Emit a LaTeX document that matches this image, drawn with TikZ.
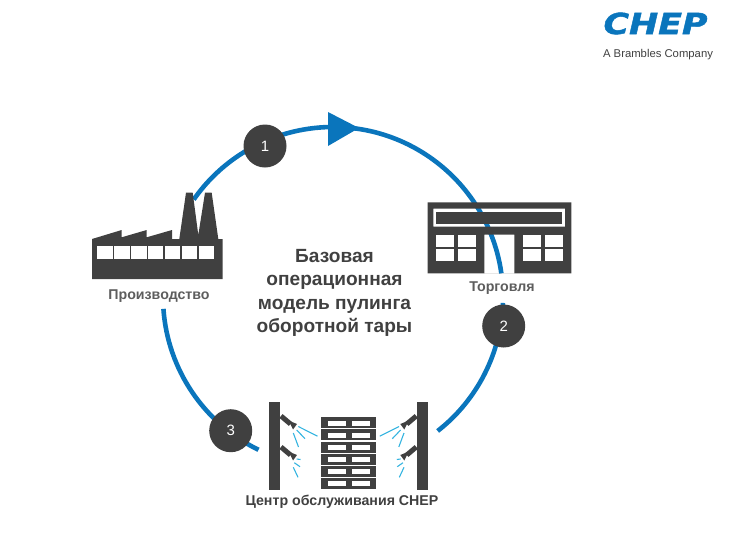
\documentclass[tikz,border=0pt]{standalone}
\usepackage{fontspec}
\setmainfont{Liberation Sans}
\newfontfamily\logofont[BoldItalicFeatures={FakeBold=1.5}]{DejaVu Sans}
\usetikzlibrary{positioning,calc}
\definecolor{chepblue}{HTML}{0A75BC}
\definecolor{iconDark}{HTML}{404040}
\definecolor{sprayBlue}{HTML}{35B4E0}

\begin{document}
\begin{tikzpicture}[
  x=1pt, y=-1pt,
  flow/.style={draw=chepblue, line width=4.6pt},
  badge/.style={circle, fill=iconDark, text=white, minimum size=43pt, inner sep=0pt, font=\fontsize{15}{17}\selectfont},
  caption/.style={font=\fontsize{14.2}{16}\bfseries\selectfont, text=iconDark!85!white, inner sep=0pt},
  icon/.style={fill=iconDark},
  hole/.style={fill=white},
  spray/.style={draw=sprayBlue, line width=1.1pt},
  node distance=7mm and 10mm
]
  \useasboundingbox (0,0) rectangle (736,541);
  \coordinate (hub) at (333,297);

  % ring, behind the icons
  \coordinate (prodEnd) at ($(hub)+(145:170 and -170)$);
  \coordinate (tradeOut) at ($(hub)+(-2:170 and -170)$);
  \coordinate (serviceOut) at ($(hub)+(-116:170 and -170)$);
  \draw[flow] (prodEnd) arc[start angle=-145, end angle=-8, radius=170];
  \draw[flow] (tradeOut) arc[start angle=2, end angle=52, radius=170];
  \draw[flow] (serviceOut) arc[start angle=116, end angle=176, radius=170];
  \fill[chepblue] (328,112) -- (359,128) -- (328,146) -- cycle;

  % factory
  \fill[icon] (92,239) -- (121.7,230) -- (121.7,237.3) -- (146.7,230) -- (146.7,237.3) -- (172,230)
    -- (172,239) -- (179.3,239) -- (186,192.7) -- (192.7,192.7) -- (198.3,235) -- (205,192.7)
    -- (211.7,192.7) -- (218.3,239) -- (222.7,239) -- (222.7,279) -- (92,279) -- cycle;
  \foreach \i in {0,...,6}
    \fill[hole] (97.3+16.9*\i,246) rectangle ++(15.4,12.7);

  % store
  \fill[icon, even odd rule] (427.7,202.3) rectangle (571.3,273.3)
    (433.3,208.7) rectangle (565,226.7)
    (484.3,234.7) rectangle (514.3,273.3);
  \fill[icon] (436,212) rectangle (561.7,224);
  \foreach \x in {435.7,457.7,523.3,545.3}
    \foreach \y in {235,249.3}
      \fill[hole] (\x,\y) rectangle ++(17.8,11.8);

  % service centre
  \fill[icon] (269,402) rectangle (280.3,490);
  \fill[icon] (417,402) rectangle (428.3,490);
  \foreach \i in {0,...,5} {
    \fill[icon] (321.3,417.3+12.1*\i) rectangle ++(54.7,11);
    \fill[hole] (328,420.6+12.1*\i) rectangle ++(18,5.3);
    \fill[hole] (352,420.6+12.1*\i) rectangle ++(18,5.3);
  }
  \foreach \s/\o in {1/0,-1/697.3} {
    \begin{scope}[xshift=\o pt, xscale=\s]
      \foreach \d in {0,31} {
        \draw[iconDark, line width=5pt] (281,416+\d) -- (290.5,424+\d);
        \fill[icon] (288.5,420.5+\d) -- (297,424+\d) -- (293,429.5+\d) -- cycle;
      }
      \draw[spray] (298.3,426.5) -- (317.5,436.2);
      \draw[spray] (296.7,430) -- (305,438.7);
      \draw[spray] (293.3,433) -- (298.5,447);
      \draw[spray] (296.7,459) -- (300.5,459.5);
      \draw[spray] (294.3,462.7) -- (300,466.7);
      \draw[spray] (293.3,467.3) -- (298,477.3);
    \end{scope}
  }

  \node[badge] (one) at (265,146) {1};
  \node[badge] (two) at (503.7,326) {2};
  \node[badge] (three) at (230.7,430.7) {3};

  \node[caption] (prod) at (159,296) {Производство};
  \node[caption] (trade) at (502,288) {Торговля};
  \node[caption, text=iconDark] (service) at (342,501.5) {Центр обслуживания CHEP};
  \node[font=\fontsize{19.1}{23.4}\bfseries\selectfont, text=iconDark, align=center, inner sep=0pt] (title) at (334.5,293)
    {Базовая\\операционная\\модель пулинга\\оборотной тары};

  \node[text=chepblue, inner sep=0pt] (logo) at (655.5,23.5) {\scalebox{1.2}[1]{\fontsize{29}{29}\logofont\bfseries\itshape\selectfont CHEP}};
  \node[text=iconDark, inner sep=0pt, font=\fontsize{11.3}{13}\selectfont] (tagline) at (658,54.5) {A Brambles Company};
\end{tikzpicture}
\end{document}
